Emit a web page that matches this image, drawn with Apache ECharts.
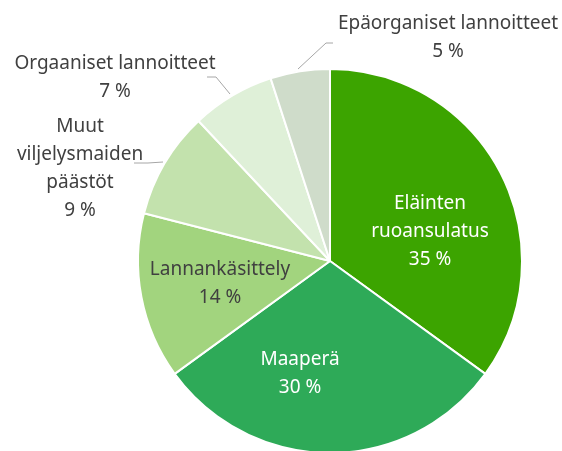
<!DOCTYPE html>
<html>
<head>
<meta charset="utf-8">
<script src="https://cdn.jsdelivr.net/npm/echarts@6/dist/echarts.min.js"></script>
<style>
	html, body { margin: 0; padding: 0; background: #fff; }
	#chart { width: 562px; height: 451px; }
</style>
</head>
<body>
<div id="chart"></div>
<script>
// osuudet prosentteina, myötäpäivään ylhäältä
var categories = ['Eläinten\nruoansulatus', 'Maaperä', 'Lannankäsittely', 'Muut\nviljelysmaiden\npäästöt', 'Orgaaniset lannoitteet', 'Epäorganiset lannoitteet'];
var values = [35, 30, 14, 9, 7, 5];
var colors = ['#3ca400', '#2eaa58', '#a2d47e', '#c3e2ad', '#dff0d8', '#cfdcca'];
var labelColors = ['#ffffff', '#ffffff', '#404040', '#404040', '#404040', '#404040'];

// tekstien paikat (keskikohta) ja ohjainviivat
var labelPos = [[430, 232], [300, 374], [220, 284], [80, 169], [115, 78], [448, 38]];
var linePoints = [null, null, null,
	[[163, 162], [148, 163], [134, 163]],
	[[230, 94], [216, 77], [207, 77]],
	[[298, 69], [326, 43], [333, 43]]];

var chart = echarts.init(document.getElementById('chart'));

var data = [];
for (var i = 0; i < values.length; i++) {
	var outside = linePoints[i] != null;
	data.push({
		name: categories[i],
		value: values[i],
		itemStyle: { color: colors[i] },
		label: { color: labelColors[i], position: outside ? 'outside' : 'inside' },
		labelLine: { show: outside }
	});
}

var option = {
	animation: false,
	series: [{
		type: 'pie',
		center: [330, 261],
		radius: 192,
		startAngle: 90,
		clockwise: true,
		data: data,
		itemStyle: { borderColor: '#ffffff', borderWidth: 2 },
		label: {
			fontFamily: 'Noto Sans',
			fontSize: 19,
			lineHeight: 28,
			align: 'center',
			overflow: 'none',
			formatter: function(p) {
				return p.name + '\n' + p.value + ' %';
			}
		},
		labelLine: {
			lineStyle: { color: '#a6a6a6', width: 1 }
		},
		labelLayout: function(params) {
			var i = params.dataIndex;
			var res = {
				x: labelPos[i][0],
				y: labelPos[i][1],
				align: 'center',
				verticalAlign: 'middle'
			};
			if (linePoints[i]) {
				res.labelLinePoints = linePoints[i];
			}
			return res;
		}
	}]
};
chart.setOption(option);
</script>
</body>
</html>
